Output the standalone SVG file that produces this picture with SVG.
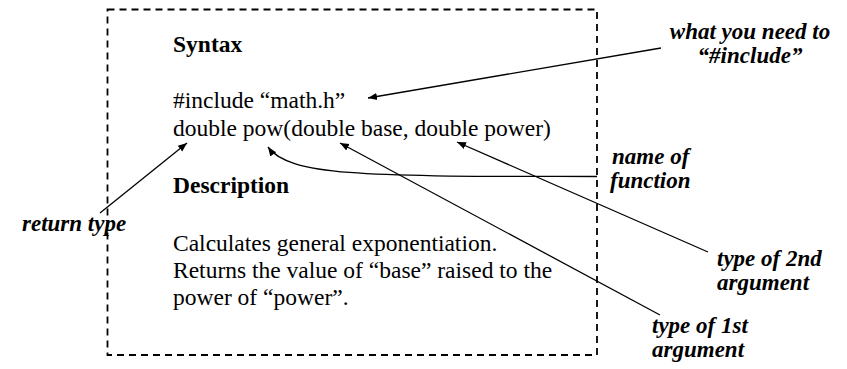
<svg xmlns="http://www.w3.org/2000/svg" width="847" height="369" viewBox="0 0 847 369">
<defs>
<style>
.t{font-family:"Liberation Serif","Times New Roman",serif;font-size:23.5px;fill:#000}
.b{font-weight:bold}
.lb{font-family:"Liberation Serif","Times New Roman",serif;font-size:23px;font-weight:bold;font-style:italic;fill:#000}
.box{fill:none;stroke:#000;stroke-width:1.8;stroke-dasharray:7 5}
.c{fill:none;stroke:#000;stroke-width:1.3}
</style>
<marker id="ah" viewBox="0 0 10 10" refX="10" refY="5" markerWidth="9" markerHeight="9" markerUnits="userSpaceOnUse" orient="auto">
<path d="M0,1 L10,5 L0,9 Z" fill="#000"/>
</marker>
</defs>
<g id="box">
<rect class="box" x="107.5" y="9.5" width="489.5" height="345.5"/>
<text class="t b" x="173" y="52">Syntax</text>
<text class="t" x="173" y="108">#include “math.h”</text>
<text class="t" x="173" y="136">double pow(double base, double power)</text>
<text class="t b" x="173" y="193">Description</text>
<text class="t" x="173" y="251">Calculates general exponentiation.</text>
<text class="t" x="173" y="278">Returns the value of “base” raised to the</text>
<text class="t" x="173" y="305">power of “power”.</text>
</g>
<g id="label-include">
<text class="lb" x="750" y="39" text-anchor="middle">what you need to</text>
<text class="lb" x="750" y="63" text-anchor="middle">“#include”</text>
</g>
<g id="label-name">
<text class="lb" x="612" y="164">name of</text>
<text class="lb" x="610" y="188">function</text>
</g>
<g id="label-return">
<text class="lb" x="22" y="231">return type</text>
</g>
<g id="label-arg2">
<text class="lb" x="717" y="266">type of 2nd</text>
<text class="lb" x="717" y="290">argument</text>
</g>
<g id="label-arg1">
<text class="lb" x="652" y="333">type of 1st</text>
<text class="lb" x="652" y="357">argument</text>
</g>
<g id="connectors">
<line class="c" x1="661" y1="48" x2="368" y2="98" marker-end="url(#ah)"/>
<line class="c" x1="100" y1="213" x2="187" y2="143" marker-end="url(#ah)"/>
<path class="c" d="M597,176.5 C380,176 290,178 268,147" marker-end="url(#ah)"/>
<line class="c" x1="660" y1="315" x2="340" y2="143" marker-end="url(#ah)"/>
<line class="c" x1="708" y1="252" x2="457" y2="142" marker-end="url(#ah)"/>
</g>
</svg>
